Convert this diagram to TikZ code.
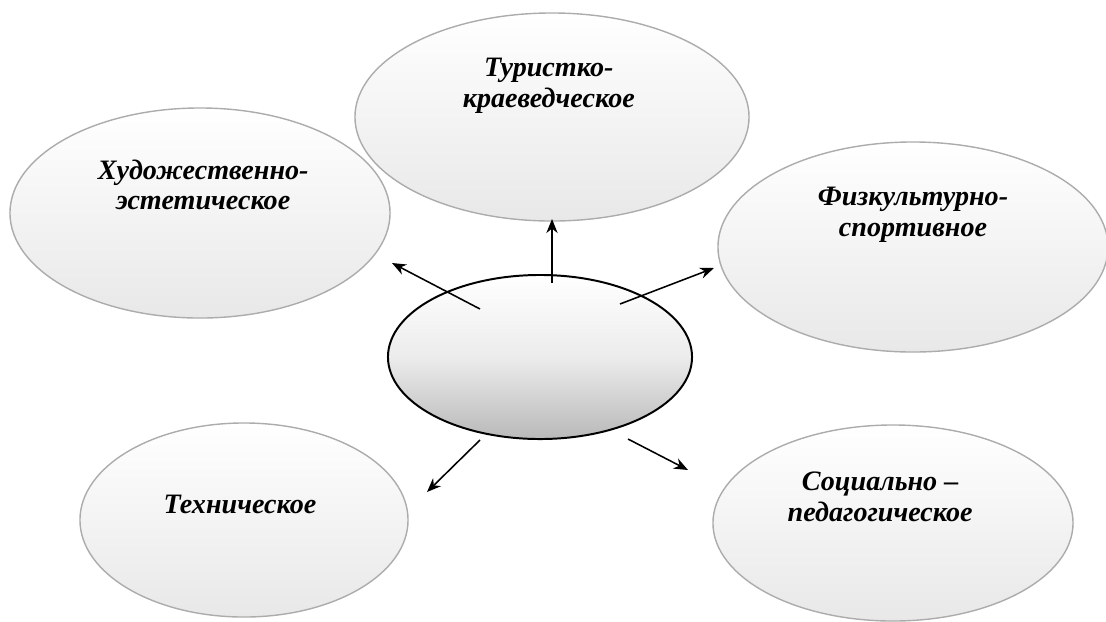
\documentclass[tikz,border=0pt]{standalone}
\usepackage{fontspec}
\setmainfont{Liberation Serif}
\usetikzlibrary{arrows.meta, positioning, shapes.geometric}

\begin{document}
\begin{tikzpicture}[x=0.025cm, y=-0.025cm,
   bubble/.style={ellipse, draw=gray!65, line width=1pt, inner sep=0pt,
      top color=white, bottom color=gray!18},
   hub/.style={ellipse, draw=black, line width=1.4pt, inner sep=0pt,
      top color=white, bottom color=gray!55, middle color=gray!15},
   lbl/.style={align=center, font=\fontsize{20}{21.8}\selectfont\bfseries\itshape},
   arr/.style={-{Stealth[length=10pt, width=8pt]}, line width=1.1pt}]
   \useasboundingbox (0,0) rectangle (1106,621);
   % outer ellipses
   \node[bubble, minimum width=9.85cm, minimum height=5.2cm] (tour) at (552,117) {};
   \node[bubble, minimum width=9.5cm, minimum height=5.25cm] (art) at (200,213) {};
   \node[bubble, minimum width=9.75cm, minimum height=5.25cm] (sport) at (913,247) {};
   \node[bubble, minimum width=8.2cm, minimum height=4.85cm] (tech) at (244,520) {};
   \node[bubble, minimum width=9cm, minimum height=4.9cm] (soc) at (893,523) {};
   % labels
   \node[lbl] (tourlbl) at ([xshift=-0.08cm, yshift=0.78cm]tour.center) {Туристко-\\краеведческое};
   \node[lbl] (artlbl) at ([xshift=0.08cm, yshift=0.7cm]art.center) {Художественно-\\эстетическое};
   \node[lbl] (sportlbl) at ([yshift=0.8cm]sport.center) {Физкультурно-\\спортивное};
   \node[lbl] (techlbl) at ([xshift=-0.1cm, yshift=0.38cm]tech.center) {Техническое};
   \node[lbl] (soclbl) at ([xshift=-0.32cm, yshift=0.65cm]soc.center) {Социально –\\педагогическое};
   % centre
   \node[hub, minimum width=7.6cm, minimum height=4.1cm] (hub) at (540,357) {};
   % arrow ends
   \coordinate (sArt) at (480,309);   \coordinate (eArt) at (392,263);
   \coordinate (sTour) at (552,283);  \coordinate (eTour) at (552,219);
   \coordinate (sSport) at (620,304); \coordinate (eSport) at (714,268);
   \coordinate (sTech) at (480,440);  \coordinate (eTech) at (427,492);
   \coordinate (sSoc) at (628,439);   \coordinate (eSoc) at (688,470);
   \draw[arr] (sArt) -- (eArt);
   \draw[arr] (sTour) -- (eTour);
   \draw[arr] (sSport) -- (eSport);
   \draw[arr] (sTech) -- (eTech);
   \draw[arr] (sSoc) -- (eSoc);
\end{tikzpicture}
\end{document}
